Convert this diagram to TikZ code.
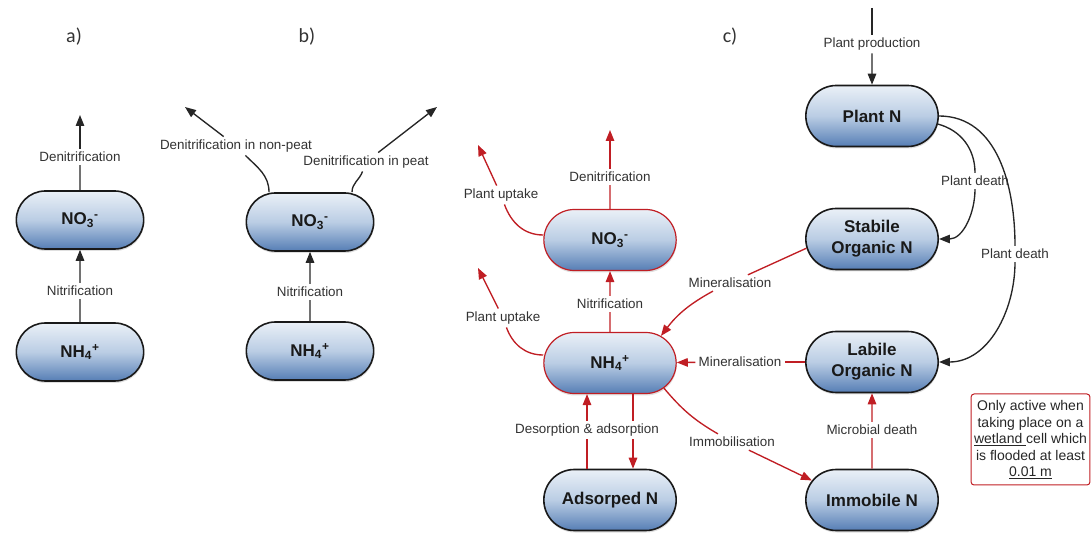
\documentclass[tikz,border=0pt]{standalone}
\usepackage{fontspec}
\setmainfont{Liberation Sans}
\newfontfamily\panelfont{Carlito}
\usetikzlibrary{arrows.meta,shapes.misc,shadows,calc}

\definecolor{poolTop}{RGB}{234,240,247}
\definecolor{poolMid}{RGB}{186,205,228}
\definecolor{poolBot}{RGB}{86,126,181}
\definecolor{fluxRed}{RGB}{192,30,36}
\definecolor{lblGray}{RGB}{51,51,51}

\tikzset{
  pool/.style={rounded rectangle, draw=black!90, line width=1.6pt,
    minimum width=139pt, minimum height=61pt,
    top color=poolTop, bottom color=poolBot, middle color=poolMid,
    drop shadow={opacity=0.25, shadow xshift=0.5pt, shadow yshift=-2pt},
    font=\fontsize{17}{21}\selectfont\bfseries, align=center, text=black!90},
  smallpool/.style={pool, minimum width=134pt, minimum height=58pt},
  wetpool/.style={pool, draw=fluxRed, line width=1.2pt},
  lbl/.style={fill=white, inner sep=3pt, text=lblGray, font=\fontsize{13.4}{15}\selectfont},
  tag/.style={text=lblGray, font=\panelfont\fontsize{20}{22}\selectfont},
  fluxline/.style={line width=1.35pt, draw=black!85},
  fluxarrow/.style={fluxline, -{Triangle[length=11pt,width=8.5pt]}},
  redline/.style={fluxline, draw=fluxRed},
  redarrow/.style={redline, -{Triangle[length=11pt,width=8.5pt]}},
}

\begin{document}
\begin{tikzpicture}[x=1pt,y=1pt]
    \useasboundingbox (0,0) rectangle (1091,535);

    % Panel tags
    \node[tag] (tagA) at (74,498) {a)};
    \node[tag] (tagB) at (307,498) {b)};
    \node[tag] (tagC) at (730,498) {c)};

    % a) nitrification and denitrification
    \node[smallpool] (noA) at (80,315) {NO\textsubscript{3}\textsuperscript{-}};
    \node[smallpool] (nhA) at (80,183) {NH\textsubscript{4}\textsuperscript{+}};
    \node[lbl] (dnA) at (80,378) {Denitrification};
    \node[lbl] (niA) at (80,244) {Nitrification};
    \coordinate (topA) at (80,420);
    \draw[fluxline] (noA) -- (dnA);
    \draw[fluxarrow] (dnA) -- (topA);
    \draw[fluxline] (nhA) -- (niA);
    \draw[fluxarrow] (niA) -- (noA);

    % b) denitrification split by soil type
    \node[smallpool] (noB) at (310,313) {NO\textsubscript{3}\textsuperscript{-}};
    \node[smallpool] (nhB) at (310,184) {NH\textsubscript{4}\textsuperscript{+}};
    \node[lbl] (niB) at (310,243) {Nitrification};
    \node[lbl] (dnpB) at (236,389) {Denitrification in non-peat};
    \node[lbl] (dpB) at (366,373) {Denitrification in peat};
    \coordinate (endL) at (185,428);
    \coordinate (endR) at (437,428);
    \draw[fluxline] (nhB) -- (niB);
    \draw[fluxarrow] (niB) -- (noB);
    \draw[fluxline] ($(noB.north)+(-41,0)$) to[out=90,in=-45] (dnpB);
    \draw[fluxarrow] (dnpB) -- (endL);
    \draw[fluxline] ($(noB.north)+(42,0)$) to[out=90,in=-110] (dpB);
    \draw[fluxarrow] (dpB) -- (endR);

    % c) full nitrogen pools
    \node[wetpool] (noC) at (610,295) {NO\textsubscript{3}\textsuperscript{-}};
    \node[wetpool] (nhC) at (610,172) {NH\textsubscript{4}\textsuperscript{+}};
    \node[pool] (adC) at (610,35) {Adsorped N};
    \node[pool] (plC) at (872,419) {Plant N};
    \node[pool] (stC) at (872,296) {Stabile\\Organic N};
    \node[pool] (laC) at (872,173) {Labile\\Organic N};
    \node[pool] (imC) at (872,35) {Immobile N};

    % wetland fluxes
    \node[lbl] (dnC) at (610,358) {Denitrification};
    \coordinate (topC) at (610,405);
    \draw[redline] (noC) -- (dnC);
    \draw[redarrow] (dnC) -- (topC);

    \node[lbl] (nitC) at (610,231) {Nitrification};
    \draw[redline] (nhC) -- (nitC);
    \draw[redarrow] (nitC) -- (noC);

    \node[lbl] (upNO) at (501,340) {Plant uptake};
    \coordinate (upNOend) at (478,390);
    \draw[redline] ($(noC.west)+(0,5)$) to[out=180,in=-70] (upNO);
    \draw[redarrow] (upNO) -- (upNOend);

    \node[lbl] (upNH) at (503,217) {Plant uptake};
    \coordinate (upNHend) at (478,267);
    \draw[redline] ($(nhC.west)+(0,8)$) to[out=180,in=-70] (upNH);
    \draw[redarrow] (upNH) -- (upNHend);

    \draw[redarrow] ($(adC.north)+(-23,0)$) -- ($(nhC.south)+(-23,0)$);
    \draw[redarrow] ($(nhC.south)+(23,0)$) -- ($(adC.north)+(23,0)$);
    \node[lbl] (desC) at (587,105) {Desorption \& adsorption};

    \node[lbl] (minS) at (730,252) {Mineralisation};
    \draw[redline] (stC.188) -- (minS);
    \draw[redarrow] (minS) to[bend right=12] (nhC.28);

    \node[lbl] (minL) at (740,173) {Mineralisation};
    \draw[redline] (laC) -- (minL);
    \draw[redarrow] (minL) -- (nhC);

    \node[lbl] (imm) at (732,93) {Immobilisation};
    \draw[redline] (nhC.-25) to[out=-50,in=150] (imm);
    \draw[redarrow] (imm) -- (imC.162);

    \node[lbl] (mic) at (872,105) {Microbial death};
    \draw[redline] (imC) -- (mic);
    \draw[redarrow] (mic) -- (laC);

    % plant fluxes
    \node[lbl] (prod) at (872,491) {Plant production};
    \coordinate (prodTop) at (872,527);
    \draw[fluxline] (prodTop) -- (prod);
    \draw[fluxarrow] (prod) -- (plC);

    \node[lbl] (pdS) at (975,354) {Plant death};
    \draw[fluxline] (plC.-7) to[out=-15,in=90] (pdS);
    \draw[fluxarrow] (pdS) to[out=-90,in=0] (stC.east);

    \node[lbl] (pdL) at (1015,281) {Plant death};
    \draw[fluxline] (plC.east) to[out=0,in=90] (pdL);
    \draw[fluxarrow] (pdL) to[out=-90,in=0] (laC.east);

    % note
    \node[draw=fluxRed, line width=1pt, rounded corners=3pt, inner xsep=3pt,
          minimum width=117pt, minimum height=91pt, align=center,
          text=black!85, font=\fontsize{14}{16.5}\selectfont]
          (note) at (1030.5,95.5)
          {Only active when\\taking place on a\\\underline{wetland\ }cell which\\is flooded at least\\\underline{0.01 m}};
\end{tikzpicture}
\end{document}
